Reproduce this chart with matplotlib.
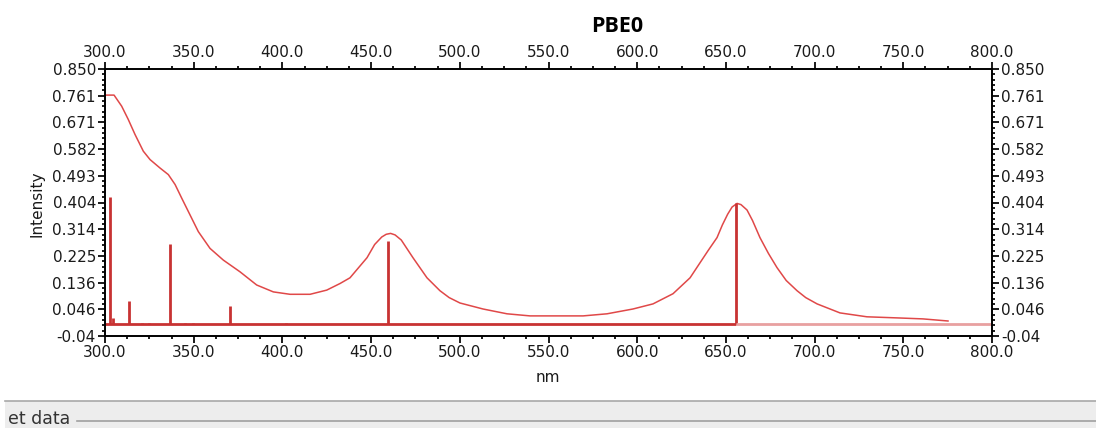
import matplotlib

matplotlib.use("Agg")
import matplotlib.pyplot as plt
import numpy as np
from matplotlib.lines import Line2D
from matplotlib.patches import Rectangle
from matplotlib.ticker import AutoMinorLocator, FixedLocator

# broadened spectrum (nm, intensity)
curve_nm = [300.0, 305.1, 309.4, 313.1, 316.9, 321.6, 325.4, 331.0, 335.7, 339.5,
            343.2, 347.9, 352.6, 359.2, 366.7, 376.1, 385.5, 394.9, 404.3, 415.6,
            425.0, 432.5, 438.1, 447.7, 452.0, 456.0, 458.5, 461.0, 463.5, 467.0,
            473.6, 481.5, 488.8, 494.0, 500.1, 513.1, 526.6, 539.6, 569.5, 583.0,
            597.6, 608.9, 620.2, 629.8, 635.4, 640.0, 645.0, 648.0, 651.0, 653.5,
            656.3, 658.5, 661.9, 665.0, 669.2, 674.0, 678.8, 684.0, 690.1, 695.0,
            701.4, 714.3, 729.5, 748.1, 761.1, 775.2]
curve_int = [0.763, 0.763, 0.726, 0.682, 0.632, 0.576, 0.548, 0.520, 0.498, 0.465,
             0.420, 0.364, 0.308, 0.252, 0.213, 0.174, 0.130, 0.107, 0.099, 0.099,
             0.113, 0.135, 0.154, 0.221, 0.265, 0.290, 0.299, 0.302, 0.297, 0.280,
             0.221, 0.154, 0.111, 0.088, 0.070, 0.050, 0.034, 0.027, 0.027, 0.034,
             0.050, 0.067, 0.101, 0.154, 0.204, 0.245, 0.288, 0.330, 0.366, 0.390,
             0.402, 0.398, 0.380, 0.345, 0.288, 0.235, 0.188, 0.145, 0.111, 0.088,
             0.067, 0.037, 0.024, 0.020, 0.017, 0.010]

# individual transitions
stick_nm = [302.8, 304.5, 313.5, 321.0, 325.0, 336.6, 345.0, 349.5, 370.5, 402.0, 459.4, 655.7]
stick_int = [0.424, 0.020, 0.077, 0.004, 0.004, 0.266, 0.004, 0.004, 0.060, 0.004, 0.277, 0.403]

ytick_vals = np.linspace(-0.04, 0.85, 11)
ytick_labels = ["-0.04", "0.046", "0.136", "0.225", "0.314", "0.404",
                "0.493", "0.582", "0.671", "0.761", "0.850"]
xtick_vals = [300, 350, 400, 450, 500, 550, 600, 650, 700, 750, 800]
xtick_labels = [f"{v:.1f}" for v in xtick_vals]

curve_color = "#e04848"
stick_color = "#c83232"

fig = plt.figure(figsize=(10.96, 4.28), dpi=100)
ax = fig.add_axes([105 / 1096, 1 - 336 / 428, 887 / 1096, 267 / 428])

ax.plot(curve_nm, curve_int, color=curve_color, lw=1.1)
ax.vlines(stick_nm, 0, stick_int, color=stick_color, lw=2.0)
ax.hlines(0, 300, max(stick_nm), color=stick_color, lw=2.0)
ax.hlines(0, max(stick_nm), 800, color="#e8a0a0", lw=2.0)

ax.set_xlim(300, 800)
ax.set_ylim(-0.04, 0.85)
ax.xaxis.set_major_locator(FixedLocator(xtick_vals))
ax.set_xticklabels(xtick_labels)
ax.yaxis.set_major_locator(FixedLocator(ytick_vals))
ax.set_yticklabels(ytick_labels)
ax.xaxis.set_minor_locator(AutoMinorLocator(4))
ax.yaxis.set_minor_locator(AutoMinorLocator(5))

ax.tick_params(which="both", direction="out", top=True, right=True,
               labeltop=True, labelright=True, labelsize=11, colors="#1a1a1a", pad=1.5)
ax.tick_params(which="major", length=5, width=1.4)
ax.tick_params(which="minor", length=2.5, width=1.4)
for sp in ax.spines.values():
    sp.set_linewidth(1.4)

fig.text(548 / 1096, 1 - 378 / 428, "nm", ha="center", va="center", fontsize=11, color="#1a1a1a")
fig.text(37 / 1096, 1 - 204 / 428, "Intensity", ha="center", va="center",
         rotation=90, fontsize=11, color="#1a1a1a")
fig.text(617 / 1096, 1 - 26 / 428, "PBE0", ha="center", va="center",
         fontsize=15.5, fontweight="bold", family="Open Sans")

# toolbar strip beneath the plot
fig.patches.append(Rectangle((5 / 1096, 0), 1, 27 / 428, transform=fig.transFigure,
                             facecolor="#ededed", edgecolor="none"))
fig.lines.append(Line2D([5 / 1096, 1], [1 - 401 / 428] * 2, transform=fig.transFigure,
                        color="#a8a8a8", lw=1.2))
fig.lines.append(Line2D([77 / 1096, 1], [1 - 421 / 428] * 2, transform=fig.transFigure,
                        color="#a0a0a0", lw=1.2))
fig.text(8 / 1096, 1 - 419 / 428, "et data", ha="left", va="center",
         fontsize=12.5, color="#333333", family="DejaVu Sans")

fig.savefig("out.png", dpi=100)
